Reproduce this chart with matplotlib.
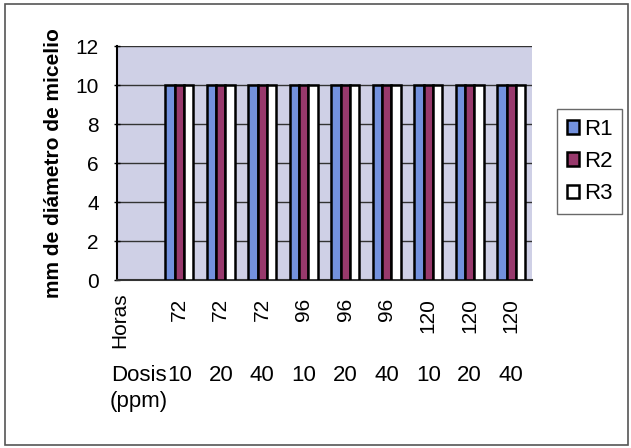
import numpy as np
import matplotlib
matplotlib.use("Agg")
import matplotlib.pyplot as plt
from matplotlib.patches import Rectangle

plt.rcParams['font.family'] = ['Liberation Sans', 'DejaVu Sans']

horas = ["72", "72", "72", "96", "96", "96", "120", "120", "120"]
dosis = ["10", "20", "40", "10", "20", "40", "10", "20", "40"]
r1 = [10, 10, 10, 10, 10, 10, 10, 10, 10]
r2 = [10, 10, 10, 10, 10, 10, 10, 10, 10]
r3 = [10, 10, 10, 10, 10, 10, 10, 10, 10]
series = [("R1", r1, "#7391de"), ("R2", r2, "#98396c"), ("R3", r3, "#ffffff")]

fig = plt.figure(figsize=(6.31, 4.48), dpi=100)
fig.patches.append(Rectangle((0.008, 0.006), 0.988, 0.986, transform=fig.transFigure,
                             fill=False, edgecolor="#555555", lw=1.2))
ax = fig.add_axes([117 / 631, 1 - 280 / 448, (532 - 117) / 631, (280 - 46) / 448])
ax.set_facecolor("#cfd0e6")

x = np.arange(1, len(horas) + 1)
w = 0.225
for i, (name, vals, col) in enumerate(series):
    ax.bar(x + (i - 1) * w, vals, w, color=col, edgecolor="black", lw=1.8, label=name, zorder=3)

ax.set_xlim(-0.5, len(horas) + 0.5)
ax.set_ylim(0, 12)
ax.set_yticks(range(0, 13, 2))
ax.yaxis.grid(True, color="#333333", lw=1.0, zorder=1)
ax.tick_params(axis="y", labelsize=15, length=4, width=1, direction="inout", pad=11)
for s in ["top", "right"]:
    ax.spines[s].set_visible(False)
ax.spines["left"].set_linewidth(1.5)
ax.spines["bottom"].set_linewidth(1.5)
ax.spines["bottom"].set_color("#333333")

ax.set_xticks(x)
ax.set_xticklabels(horas, rotation=90, fontsize=15)
ax.tick_params(axis="x", length=0, pad=13)
ax.text(-0.44, -0.055, "Horas", rotation=90, fontsize=15, ha="center", va="top",
        transform=ax.get_xaxis_transform())

ax.text(0.695, -0.365, "Dosis", fontsize=16, ha="right", va="top",
        transform=ax.get_xaxis_transform())
for xi, d in zip(x, dosis):
    ax.text(xi, -0.365, d, fontsize=16, ha="center", va="top",
            transform=ax.get_xaxis_transform())
ax.text(-0.67, -0.475, "(ppm)", fontsize=16, ha="left", va="top",
        transform=ax.get_xaxis_transform())

ax.set_ylabel("mm de diámetro de micelio", fontsize=15, fontweight="bold", labelpad=9)

leg = fig.legend(loc="center left", bbox_to_anchor=(557 / 631, 1 - 161.5 / 448), fontsize=16,
                 frameon=True, fancybox=False, edgecolor="#444444", handlelength=0.55,
                 handleheight=0.55, handletextpad=0.2, labelspacing=0.5, borderpad=0.45,
                 borderaxespad=0)
leg.get_frame().set_linewidth(1.0)

fig.savefig("out.png", dpi=100)
